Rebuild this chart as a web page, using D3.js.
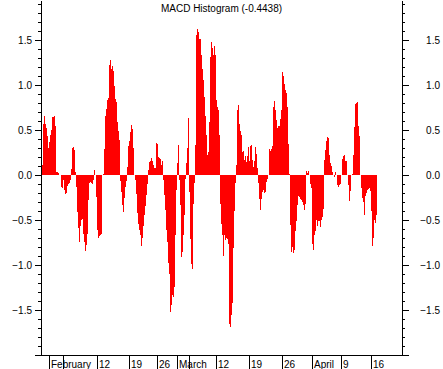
<!DOCTYPE html>
<html>
<head>
<meta charset="utf-8">
<script src="https://cdn.jsdelivr.net/npm/d3@7"></script>
<style>
  body { margin: 0; background: #fff; }
  svg { display: block; font-family: "Liberation Sans", Arial, sans-serif; font-size: 10px; }
  .axis path, .axis line { stroke: #000; shape-rendering: crispEdges; }
</style>
</head>
<body>
<div id="chart"></div>
<script>
const title = 'MACD Histogram (-0.4438)';

// one value per hourly bar
const histogram = [
  0.11, 0.57, 0.66, 0.57, 0.52, 0.43, 0.30, 0.37, 0.44, 0.50, 0.64, 0.64, 0.66, 0.54,
  0.03, 0.03, 0.02, 0, 0, -0.13, -0.14, -0.06, -0.17, -0.21, -0.20, -0.12, -0.10, -0.09, -0.06,
  0.07, 0.30, 0.31, 0.28, 0.03, -0.13, -0.41, -0.59, -0.74, -0.57, -0.50, -0.49, -0.65, -0.74, -0.84, -0.78, -0.66,
  -0.28, -0.09, -0.08, -0.09, -0.10, -0.06, 0.06, 0, -0.24, -0.61, -0.70, -0.68, -0.67, -0.66, 0, 0.01,
  0.29, 0.66, 0.73, 0.83, 0.86, 1.22, 1.28, 1.18, 1.21, 1.16, 0.99, 0.84, 0.81, 0.59, 0.49, 0.39,
  -0.07, -0.19, -0.33, -0.41, -0.26, -0.13, -0.07, 0.09, 0.32, 0.38, 0.48, 0.56, 0.51, 0.30, 0,
  -0.06, -0.21, -0.42, -0.54, -0.61, -0.67, -0.79, -0.70, -0.57, -0.44, -0.34, -0.22, -0.10, 0.06, 0.14, 0.16, 0.19,
  0.16, 0.11, 0.08, 0.08, 0.36, 0.34, 0.20, 0.19, 0.18, 0.11, 0.16,
  -0.06, -0.22, -0.39, -0.61, -0.74, -0.98, -1.10, -1.52, -1.44, -1.33, -1.36, -1.24, -0.67, -0.17,
  0.13, 0.33, -0.06, -0.33, -0.91, -0.86, -0.67, -0.44, -0.04, 0.13, 0.30, 0.63, -0.19, -0.71, -0.99, -1.04, -0.32, -0.09, 0.33,
  1.56, 1.62, 1.59, 1.51, 1.51, 1.33, 1.18, 1.06, 0.87, 0.66, 0.44, 0.22, 0.26, 0.59, 1.31, 1.48, 1.41, 1.33, 1.43, 1.33, 0.83, 0.76, 0.72, 0.44,
  -0.32, -0.54, -0.67, -0.90, -0.67, -0.72, -0.70, -0.71, -0.77, -1.66, -1.69, -1.56, -1.42, -0.81, -0.40, -0.09, 0.11,
  0.72, 0.78, 0.57, 0.49, 0.44, 0.26, 0.27, 0.17, 0.21, 0.14, 0.21, 0.31, 0.16, 0.32, 0.33, 0.17, 0.09, 0.16, 0.31, 0.23, 0.08,
  -0.09, -0.27, -0.39, -0.27, -0.19, -0.17, -0.20, -0.19, -0.08, -0.04, 0,
  0.29, 0.27, 0.29, 0.32, 0.76, 0.82, 0.72, 0.61, 0.52, 0.54, 0.54, 0.62, 0.72, 1.14, 1.10, 1.01, 0.94, 0.91, 0.76, 0.34, 0.01,
  -0.56, -0.86, -0.80, -0.87, -0.83, -0.62, -0.51, -0.33, -0.23, -0.24, -0.27, -0.28, -0.30, -0.33, -0.39, -0.32,
  0.04, 0.02, 0.04, 0,
  -0.10, -0.14, -0.77, -0.83, -0.67, -0.62, -0.50, -0.57, -0.51, -0.51, -0.58, -0.50, -0.47, -0.38,
  0.17, 0.28, 0.38, 0.42, 0.41, 0.22, 0.13, 0.10, 0.03, 0, -0.02, 0.03, 0,
  -0.11, -0.13, -0.11, -0.10, 0,
  0.18, 0.21, 0.22, 0.16, 0.16, 0,
  -0.11, -0.29, -0.18, 0, 0.01,
  0.22, 0.53, 0.79, 0.80, 0.81, 0.54, 0.43, 0,
  -0.14, -0.26, -0.30, -0.44, -0.23, -0.20, -0.17, -0.16, -0.14, -0.18, -0.40, -0.79, -0.70, -0.50, -0.53, -0.44
];

// date ticks, as bar index
const dateTickIndex = [7, 21, 55, 87, 115, 135, 147, 174, 207, 240, 270, 299, 329];
const dateTickLabels = ['February', '', '12', '19', '26', 'March', '', '12', '19', '26', 'April', '9', '16'];

const valueTicks = [-2.0, -1.5, -1.0, -0.5, 0.0, 0.5, 1.0, 1.5];
const valueMinorTicks = d3.range(-20, 20).map(d => d / 10);

const width = 443;
const height = 369;
const plotLeft = 41, plotRight = 402, plotTop = 0, plotBottom = 355;

const svg = d3.select('#chart').append('svg')
  .attr('width', width)
  .attr('height', height);

const x = d3.scaleLinear().domain([-1, 360]).range([plotLeft, plotRight]);
const y = d3.scaleLinear().domain([-2, 175 / 90]).range([plotBottom, plotTop]);

// bars
svg.append('g')
  .selectAll('rect')
  .data(histogram)
  .join('rect')
  .attr('x', (d, i) => x(i))
  .attr('width', (d, i) => x(i + 1) - x(i))
  .attr('y', d => y(Math.max(0, d)))
  .attr('height', d => Math.abs(y(d) - y(0)))
  .attr('fill', '#ff0000')
  .attr('shape-rendering', 'crispEdges');

// left axis
svg.append('g').attr('class', 'axis')
  .attr('transform', `translate(${plotLeft},0)`)
  .call(d3.axisLeft(y).tickValues(valueMinorTicks).tickSize(3).tickSizeOuter(0).tickFormat(''));
svg.append('g').attr('class', 'axis')
  .attr('transform', `translate(${plotLeft},0)`)
  .call(d3.axisLeft(y).tickValues(valueTicks).tickSize(6).tickSizeOuter(0).tickFormat(''));

// right axis
svg.append('g').attr('class', 'axis')
  .attr('transform', `translate(${plotRight},0)`)
  .call(d3.axisRight(y).tickValues(valueMinorTicks).tickSize(3).tickSizeOuter(0).tickFormat(''));
svg.append('g').attr('class', 'axis')
  .attr('transform', `translate(${plotRight},0)`)
  .call(d3.axisRight(y).tickValues(valueTicks).tickSize(7).tickSizeOuter(0).tickFormat(''));

const labelTicks = valueTicks.filter(v => v > -2);
svg.append('g')
  .selectAll('text')
  .data(labelTicks)
  .join('text')
  .attr('x', 32)
  .attr('y', d => y(d))
  .attr('dy', '0.35em')
  .attr('text-anchor', 'end')
  .text(d => d3.format('.1f')(d));
svg.append('g')
  .selectAll('text')
  .data(labelTicks)
  .join('text')
  .attr('x', 440)
  .attr('y', d => y(d))
  .attr('dy', '0.35em')
  .attr('text-anchor', 'end')
  .text(d => d3.format('.1f')(d));

// bottom axis
svg.append('g').attr('class', 'axis')
  .attr('transform', `translate(0,${plotBottom})`)
  .call(d3.axisBottom(x).tickValues(dateTickIndex).tickSize(14).tickSizeOuter(0).tickFormat(''));

svg.append('g')
  .selectAll('text')
  .data(dateTickIndex)
  .join('text')
  .attr('x', d => x(d) + 2)
  .attr('y', 368)
  .attr('text-anchor', 'start')
  .text((d, i) => dateTickLabels[i]);

svg.append('text')
  .attr('x', (plotLeft + plotRight) / 2)
  .attr('y', 12)
  .attr('text-anchor', 'middle')
  .text(title);
</script>
</body>
</html>
